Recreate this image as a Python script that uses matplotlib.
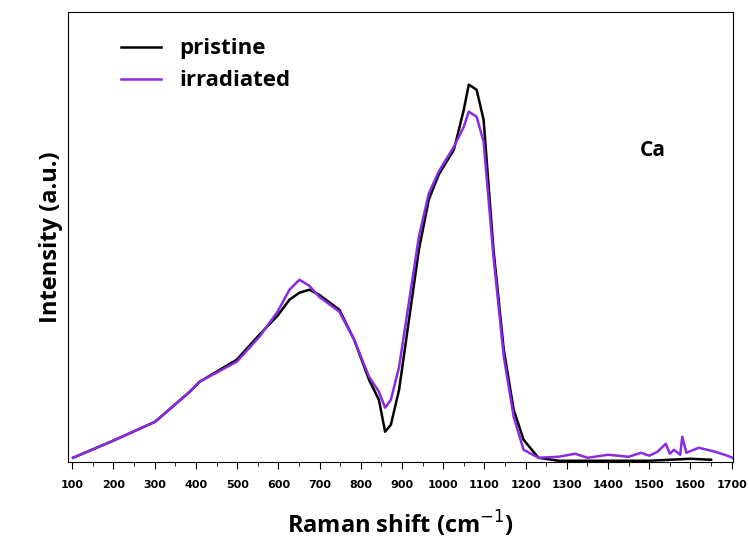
import matplotlib
matplotlib.use('Agg')
import matplotlib.pyplot as plt

# pristine spectrum
x_pristine = [102, 199, 301, 385, 409, 499, 554, 598, 627, 651, 675, 699, 748, 784, 820,
              844, 859, 873, 893, 917, 941, 965, 989, 1026, 1050, 1062, 1081, 1098, 1122,
              1147, 1171, 1195, 1231, 1280, 1500, 1600, 1650]
y_pristine = [4, 21, 40, 70, 80, 102, 127, 146, 162, 169, 172, 167, 152, 122, 82,
              62, 30, 37, 72, 142, 212, 262, 287, 312, 352, 377, 372, 342, 212,
              112, 52, 22, 4, 1, 1, 3, 2]

# irradiated spectrum
x_irr = [102, 199, 301, 385, 409, 499, 554, 598, 627, 651, 675, 699, 748, 784, 820,
         844, 859, 873, 893, 917, 941, 965, 989, 1026, 1050, 1062, 1081, 1098, 1122,
         1147, 1171, 1195, 1231, 1280, 1320, 1350, 1400, 1450, 1480, 1500, 1520, 1540,
         1550, 1560, 1575, 1580, 1590, 1620, 1660, 1690, 1702]
y_irr = [4, 21, 40, 70, 80, 100, 125, 150, 172, 182, 176, 165, 150, 122, 85,
         70, 54, 62, 95, 160, 225, 268, 290, 315, 335, 350, 345, 320, 205,
         105, 45, 12, 4, 5, 8, 4, 7, 5, 9, 6, 10, 18,
         8, 12, 7, 25, 9, 14, 10, 6, 4]

fig = plt.figure(figsize=(7.49, 5.55), dpi=100)
ax = fig.add_axes([0.091, 0.168, 0.887, 0.811])
ax.plot(x_pristine, y_pristine, color='black', lw=1.8, label='pristine')
ax.plot(x_irr, y_irr, color='#8a2be2', lw=1.8, label='irradiated')

ax.set_xlim(90, 1702)
ax.set_ylim(0, 450)
ax.set_yticks([])
ax.set_xticks(range(100, 1701, 100))
ax.set_xticks(range(100, 1701, 50), minor=True)
ax.tick_params(axis='x', which='major', labelsize=8, length=5, pad=8)
ax.tick_params(axis='x', which='minor', length=3)
for lab in ax.get_xticklabels():
    lab.set_fontweight('bold')
ax.set_xlabel('Raman shift (cm$^{-1}$)', fontsize=17, fontweight='bold',
              family='Open Sans', labelpad=14)
ax.set_ylabel('Intensity (a.u.)', fontsize=17, fontweight='bold', family='Open Sans')
ax.text(0.86, 0.68, 'Ca', transform=ax.transAxes, fontsize=15, fontweight='bold',
        family='Open Sans')
ax.legend(loc='upper left', frameon=False, prop={'family': 'Open Sans', 'weight': 'bold', 'size': 16},
          handlelength=1.8, borderaxespad=0.8, bbox_to_anchor=(0.04, 1.0))

fig.savefig('out.png', dpi=100)
